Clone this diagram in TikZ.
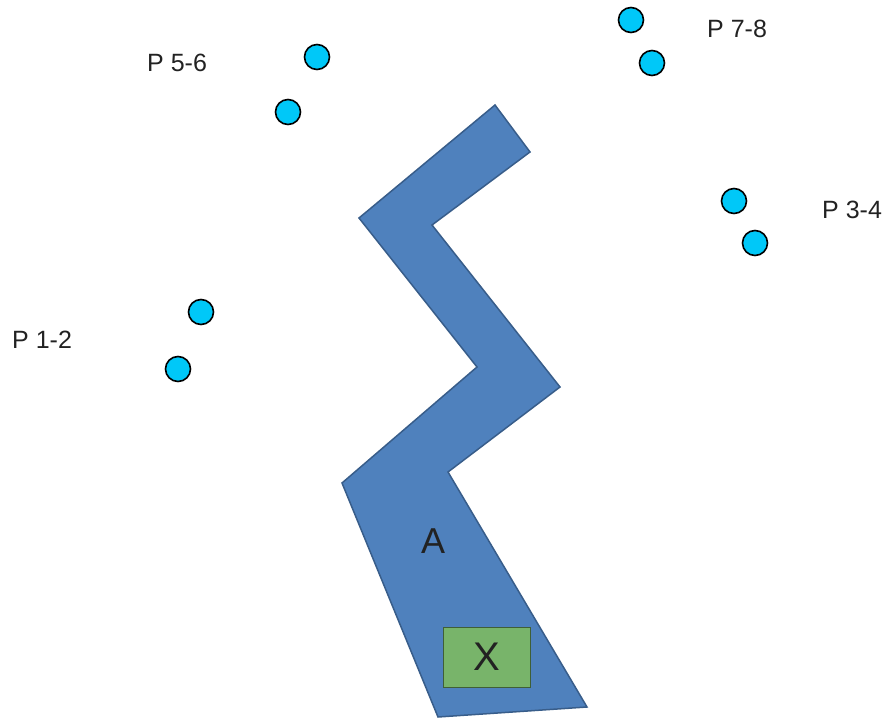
\documentclass[tikz,border=0pt]{standalone}
\usepackage{fontspec}
\setmainfont{Liberation Sans}
\definecolor{shapeblue}{HTML}{4F81BD}
\definecolor{shapeedge}{HTML}{385D8A}
\definecolor{boxgreen}{HTML}{78B46A}
\definecolor{boxedge}{HTML}{3F5F36}
\definecolor{dotcyan}{HTML}{00C8F8}
\definecolor{txt}{HTML}{222222}
\begin{document}
\begin{tikzpicture}[x=1pt,y=-1pt,
  dot/.style={circle,draw=black,line width=1.6pt,fill=dotcyan,minimum size=25pt,inner sep=0pt},
  plabel/.style={text=txt,font=\fontsize{25}{25}\selectfont,inner sep=0pt},
  bigletter/.style={text=txt,font=\fontsize{36}{36}\selectfont,inner sep=0pt}]
\useasboundingbox (0,0) rectangle (888,719);
% zigzag shape A
\draw[fill=shapeblue,draw=shapeedge,line width=1.5pt,line join=miter]
  (495,105) -- (530,152) -- (432,225) -- (560,387) -- (448,472) -- (587,707)
  -- (438,717) -- (342,483) -- (477,367) -- (359,218) -- cycle;
\node[bigletter] (A) at (433,541) {A};
\node[draw=boxedge,line width=1pt,fill=boxgreen,minimum width=87pt,minimum height=60pt,inner sep=0pt,text=txt,font=\fontsize{40}{40}\selectfont] (X) at (486.5,657) {X};
% dots
\node[dot] (p5) at (317,57) {};
\node[dot] (p6) at (288,112) {};
\node[dot] (p7) at (631,20) {};
\node[dot] (p8) at (652,63) {};
\node[dot] (p3) at (734,201) {};
\node[dot] (p4) at (755,243) {};
\node[dot] (p1) at (201,312) {};
\node[dot] (p2) at (178,369) {};
% labels
\node[plabel,anchor=west] (l56) at (147,63) {P 5-6};
\node[plabel,anchor=west] (l78) at (707,29) {P 7-8};
\node[plabel,anchor=west] (l34) at (822,210) {P 3-4};
\node[plabel,anchor=west] (l12) at (12,340) {P 1-2};
\end{tikzpicture}
\end{document}
